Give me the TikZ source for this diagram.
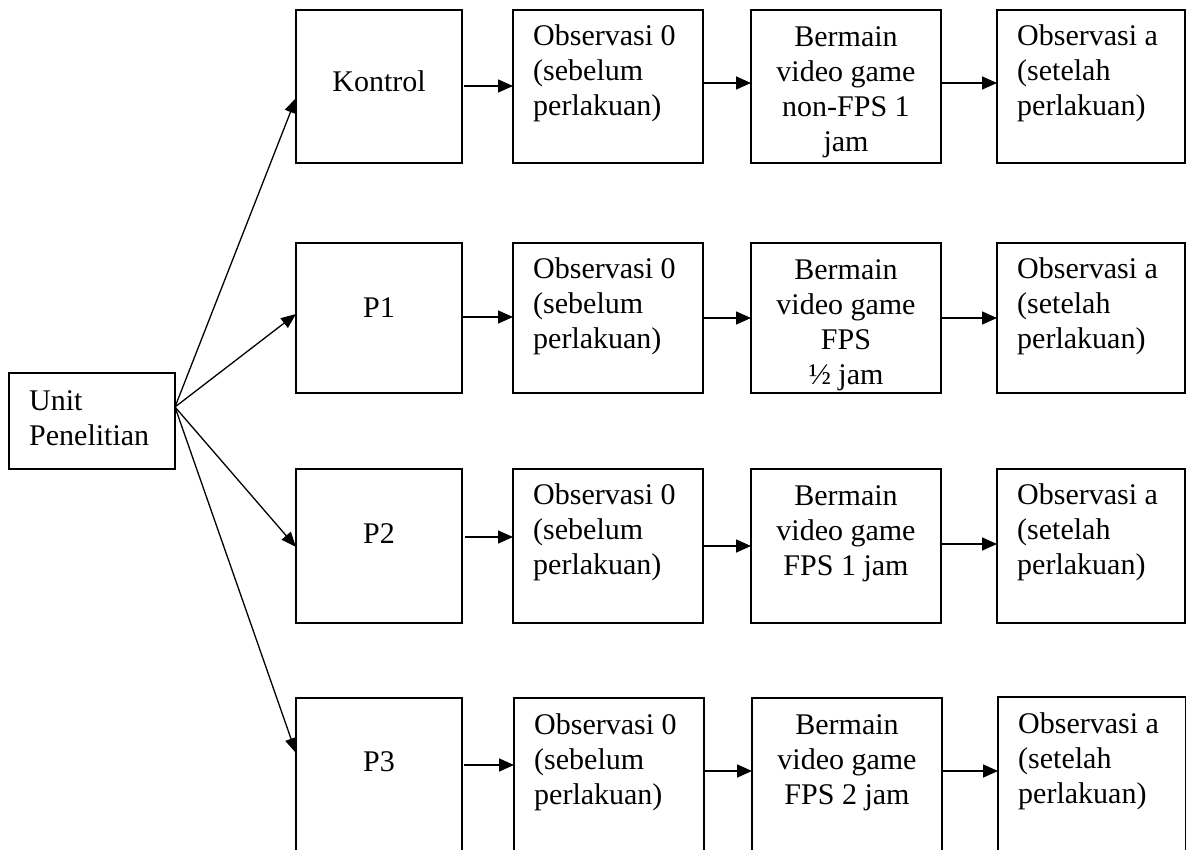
\documentclass[tikz,border=0pt]{standalone}
\usepackage{fontspec}
\setmainfont{Liberation Serif}
\usetikzlibrary{arrows.meta,calc}
\newcommand\myfs{\fontsize{30}{35}\selectfont}
\begin{document}
\begin{tikzpicture}[x=1pt,y=-1pt,
  box/.style={draw, line width=1.6pt, inner sep=0pt, outer sep=0pt, anchor=north west},
  ltxt/.style={inner sep=0pt, align=left, anchor=north west, font=\myfs},
  ctxt/.style={inner sep=0pt, align=center, anchor=north, font=\myfs},
  ptxt/.style={inner sep=0pt, anchor=base, font=\myfs},
  arr/.style={line width=1.6pt, -{Triangle[length=15pt,width=13pt]}},
  fanarr/.style={line width=1.3pt, -{Triangle[length=15pt,width=12pt]}}]
\clip (0,0) rectangle (1186,850);
\fill[white] (0,0) rectangle (1186,850);

% Unit Penelitian
\node[box, minimum width=166, minimum height=96] (unit) at (9,373) {};
\node[ltxt] (unitT) at ($(unit.north west)+(20,12.5)$) {\strut Unit\\Penelitian};
\coordinate (fan) at ($(unit.north east)+(0,34)$);

% Row 1
\node[box, minimum width=166, minimum height=153] (kon) at (296,10) {};
\node[box, minimum width=190, minimum height=153] (o01) at (513,10) {};
\node[box, minimum width=190, minimum height=153] (b1) at (751,10) {};
\node[box, minimum width=188, minimum height=153] (a1) at (997,10) {};
\node[ptxt] (konT) at ($(kon.north)+(0,82)$) {Kontrol};
\node[ltxt] (o01T) at ($(o01.north west)+(20,10.5)$) {\strut Observasi 0\\(sebelum\\perlakuan)};
\node[ctxt] (b1T) at ($(b1.north)+(0,11.5)$) {\strut Bermain\\video game\\non-FPS 1\\jam};
\node[ltxt] (a1T) at ($(a1.north west)+(20,10.5)$) {\strut Observasi a\\(setelah\\perlakuan)};

% Row 2
\node[box, minimum width=166, minimum height=150] (p1) at (296,243) {};
\node[box, minimum width=190, minimum height=150] (o02) at (513,243) {};
\node[box, minimum width=190, minimum height=150] (b2) at (751,243) {};
\node[box, minimum width=188, minimum height=150] (a2) at (997,243) {};
\node[ptxt] (p1T) at ($(p1.north)+(0,74)$) {P1};
\node[ltxt] (o02T) at ($(o02.north west)+(20,10.5)$) {\strut Observasi 0\\(sebelum\\perlakuan)};
\node[ctxt] (b2T) at ($(b2.north)+(0,11.5)$) {\strut Bermain\\video game\\FPS\\½ jam};
\node[ltxt] (a2T) at ($(a2.north west)+(20,10.5)$) {\strut Observasi a\\(setelah\\perlakuan)};

% Row 3
\node[box, minimum width=166, minimum height=154] (p2) at (296,469) {};
\node[box, minimum width=190, minimum height=154] (o03) at (513,469) {};
\node[box, minimum width=190, minimum height=154] (b3) at (751,469) {};
\node[box, minimum width=188, minimum height=154] (a3) at (997,469) {};
\node[ptxt] (p2T) at ($(p2.north)+(0,74)$) {P2};
\node[ltxt] (o03T) at ($(o03.north west)+(20,10.5)$) {\strut Observasi 0\\(sebelum\\perlakuan)};
\node[ctxt] (b3T) at ($(b3.north)+(0,11.5)$) {\strut Bermain\\video game\\FPS 1 jam};
\node[ltxt] (a3T) at ($(a3.north west)+(20,10.5)$) {\strut Observasi a\\(setelah\\perlakuan)};

% Row 4
\node[box, minimum width=166, minimum height=180] (p3) at (296,698) {};
\node[box, minimum width=190, minimum height=180] (o04) at (514,698) {};
\node[box, minimum width=190, minimum height=180] (b4) at (752,698) {};
\node[box, minimum width=188, minimum height=180] (a4) at (998,697) {};
\node[ptxt] (p3T) at ($(p3.north)+(0,73)$) {P3};
\node[ltxt] (o04T) at ($(o04.north west)+(20,12)$) {\strut Observasi 0\\(sebelum\\perlakuan)};
\node[ctxt] (b4T) at ($(b4.north)+(0,12)$) {\strut Bermain\\video game\\FPS 2 jam};
\node[ltxt] (a4T) at ($(a4.north west)+(20,12)$) {\strut Observasi a\\(setelah\\perlakuan)};

% Fan arrows
\draw[fanarr] (fan) -- ($(kon.north west)+(0,88)$);
\draw[fanarr] (fan) -- ($(p1.north west)+(0,71)$);
\draw[fanarr] (fan) -- ($(p2.north west)+(0,78)$);
\draw[fanarr] (fan) -- ($(p3.north west)+(0,55)$);

% Row arrows
\draw[arr] ($(kon.north east)+(2,76)$) -- ($(o01.north west)+(0,76)$);
\draw[arr] ($(o01.north east)+(0,73)$) -- ($(b1.north west)+(0,73)$);
\draw[arr] ($(b1.north east)+(0,73)$) -- ($(a1.north west)+(0,73)$);

\draw[arr] ($(p1.north east)+(0,74)$) -- ($(o02.north west)+(0,74)$);
\draw[arr] ($(o02.north east)+(0,75)$) -- ($(b2.north west)+(0,75)$);
\draw[arr] ($(b2.north east)+(0,75)$) -- ($(a2.north west)+(0,75)$);

\draw[arr] ($(p2.north east)+(3,68)$) -- ($(o03.north west)+(0,68)$);
\draw[arr] ($(o03.north east)+(0,77)$) -- ($(b3.north west)+(0,77)$);
\draw[arr] ($(b3.north east)+(0,75)$) -- ($(a3.north west)+(0,75)$);

\draw[arr] ($(p3.north east)+(2,67)$) -- ($(o04.north west)+(0,67)$);
\draw[arr] ($(o04.north east)+(0,73)$) -- ($(b4.north west)+(0,73)$);
\draw[arr] ($(b4.north east)+(0,73)$) -- ($(a4.north west)+(0,74)$);
\end{tikzpicture}
\end{document}
